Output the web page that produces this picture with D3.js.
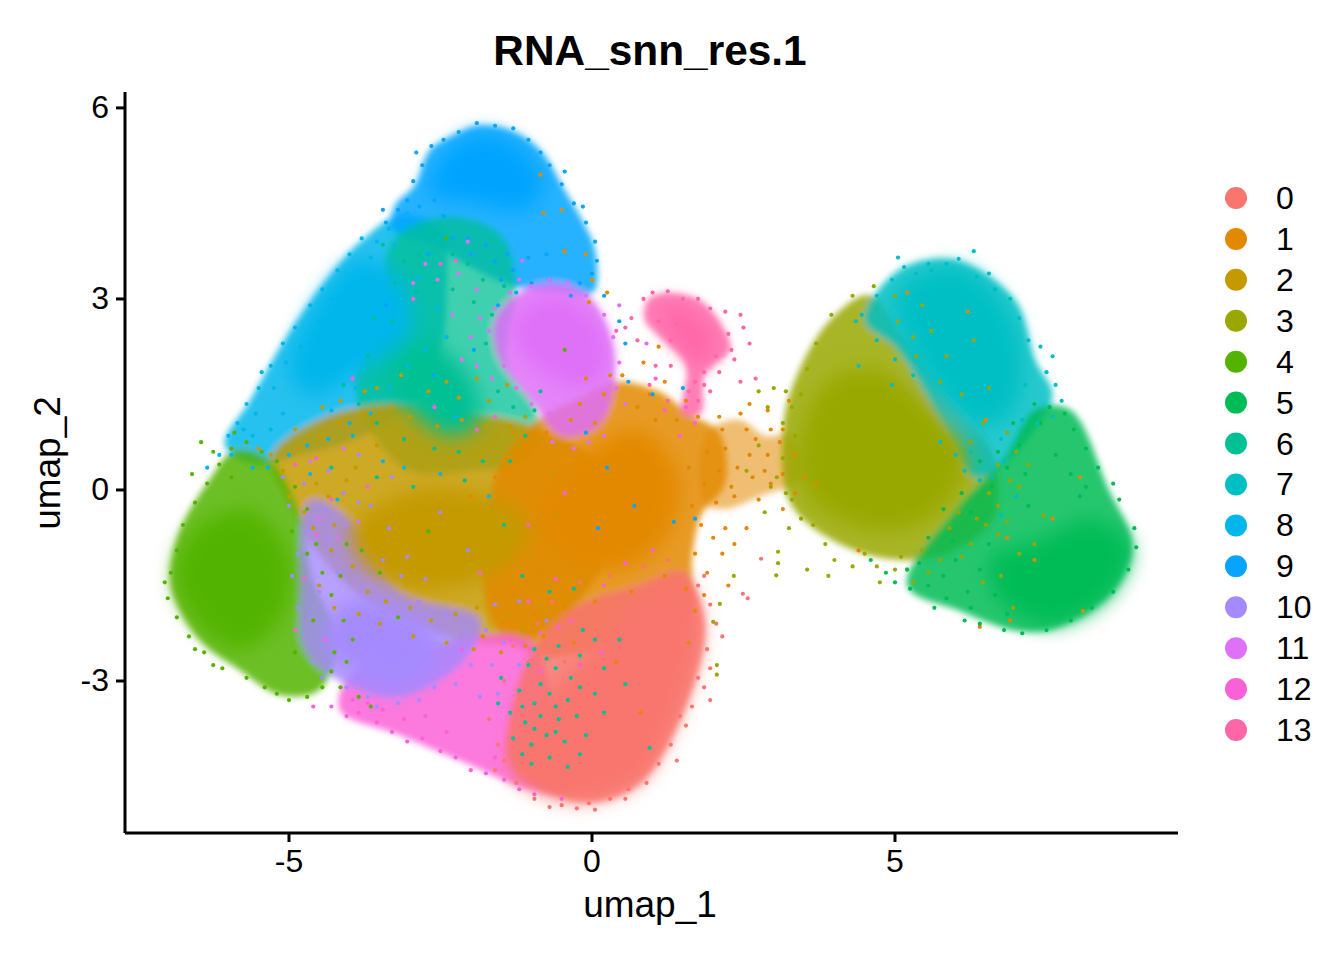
<!DOCTYPE html>
<html><head><meta charset="utf-8">
<script src="https://cdn.jsdelivr.net/npm/d3@7/dist/d3.min.js"></script>
<style>html,body{margin:0;background:#fff}svg{display:block}text{font-family:"Liberation Sans",Arial,sans-serif;fill:#000}</style>
</head><body><svg id="c" width="1344" height="960"></svg>
<script>
const clusters=["0","1","2","3","4","5","6","7","8","9","10","11","12","13"];
const colors=["#F8766D","#E38900","#C49A00","#99A800","#53B400","#00BC56","#00C094","#00BFC4","#00B6EB","#06A4FF","#A58AFF","#DF70F8","#FB61D7","#FF66A8"];
const xTicks=[-5,0,5], yTicks=[-3,0,3,6];

// Cluster extents, in umap units: [cluster, outline, density]
const sparseRegions=[
[8,[[-6.06,.71],[-5.64,1.41],[-5.07,2.36],[-4.32,3.38],[-3.75,3.96],[-3.17,4.32],[-2.5,4.1],[-2.4,3.1],[-2.5,2.2],[-3,1.3],[-3.9,.8],[-4.8,.55],[-5.6,.4]],.85],
[9,[[-2.92,4.79],[-2.67,5.34],[-2.26,5.58],[-1.88,5.72],[-1.35,5.65],[-.86,5.34],[-.45,4.71],[-.12,4.16],[.05,3.77],[.02,3.1],[-.6,3.1],[-1.3,3.2],[-2,3.5],[-2.6,3.85],[-3.3,4.1],[-3.25,4.47]],.85],
[6,[[-3.3,3.9],[-2.4,4.3],[-1.5,4],[-1.25,3.2],[-1.4,2],[-.9,1.2],[-1,.5],[-2,.3],[-3,.3],[-3.7,1],[-3.9,1.7],[-3.5,2.6]],.75],
[2,[[-5.3,.5],[-4.5,1.1],[-3.3,1.35],[-2,1.2],[-1,1],[.2,.3],[.2,-1.1],[-.9,-2.3],[-1.9,-2.4],[-3,-2.1],[-3.8,-1.7],[-4.6,-.9],[-5,-.2]],.85],
[1,[[-1.6,.2],[-.9,1.1],[-.2,1.45],[.35,1.7],[1.1,1.55],[1.6,1.2],[2.1,.9],[2.2,.1],[1.8,-.4],[1.65,-1.1],[1.62,-1.95],[.46,-2.4],[-.86,-2.6],[-1.68,-2]],.85],
[1,[[1.9,.9],[2.44,1.1],[2.85,.85],[3.3,.85],[3.45,.2],[2.77,-.1],[2.2,-.3],[1.85,-.2]],.55],
[4,[[-6.96,-1.34],[-6.8,-.63],[-6.31,.16],[-5.89,.63],[-5.31,.47],[-4.85,-.31],[-4.6,-1.41],[-4.2,-2.36],[-4.5,-3.14],[-5.15,-3.22],[-5.81,-2.83],[-6.47,-2.36],[-6.88,-1.73]],.85],
[12,[[-4.16,-3.46],[-3.17,-3.85],[-2.01,-4.32],[-1.02,-4.71],[-.4,-4.75],[-.6,-3.5],[-1,-2.4],[-2.01,-2.3],[-3,-2.6],[-3.99,-2.9]],.85],
[10,[[-4.82,-1.73],[-4.65,-.16],[-3.99,-.47],[-3.17,-1.6],[-1.85,-2.04],[-2.1,-2.67],[-3.17,-3.25],[-4.16,-3],[-4.74,-2.51]],.8],
[0,[[-1.35,-4.3],[-1.3,-3.3],[-.9,-2.4],[-.2,-1.8],[.8,-1.5],[1.5,-1.3],[1.85,-2],[1.7,-3],[.8,-4.6],[-.2,-4.9]],.85],
[11,[[-1.6,2.67],[-1.19,3.1],[-.61,3.25],[-.03,3.02],[.32,2.36],[.36,1.6],[.1,1],[-.5,.85],[-1,1.4],[-1.55,2.1]],.85],
[13,[[.92,2.98],[1.2,3.09],[1.78,2.98],[2.19,2.51],[2.28,2.2],[1.86,1.81],[1.8,1.2],[1.5,1.2],[1.55,1.95],[1.12,2.4],[.87,2.67]],.85],
[3,[[3.35,1.73],[3.93,2.67],[4.59,3.06],[5.17,2.36],[5.91,1.41],[6.6,.6],[6.65,-.4],[6,-.95],[5.08,-1.1],[4.09,-.85],[3.27,-.2],[3.15,.94]],.85],
[7,[[4.5,2.67],[5.08,3.46],[5.99,3.61],[6.98,2.98],[7.31,2.04],[7.6,1.49],[7.23,.85],[6.73,.35],[6.3,.2],[5.8,1],[5.08,2.2]],.85],
[5,[[7.31,1.26],[7.89,1.26],[8.53,0],[8.92,-.86],[8.63,-1.57],[7.72,-2.15],[7.06,-2.22],[6.07,-1.9],[5.2,-1.5],[6,-.3],[6.8,.5]],.85]
];
const denseRegions=[
[2,[[-3.99,-.63],[-2.84,0],[-1.52,-.16],[-1.02,-.63],[-1.52,-1.26],[-2.84,-1.57],[-3.66,-1.26]]],
[1,[[-.86,-.31],[-.03,.63],[.79,.94],[1.45,.16],[1.2,-.79],[.46,-1.26],[-.53,-1.02]]],
[6,[[-3.42,1.88],[-2.84,2.36],[-2.1,1.88],[-1.85,1.1],[-2.34,.86],[-3,1.26]]],
[8,[[-4.98,1.88],[-4.49,2.98],[-3.83,3.61],[-3.17,3.3],[-3,2.51],[-3.83,1.88],[-4.65,1.49]]],
[9,[[-2.7,4.7],[-2.3,5.4],[-1.8,5.6],[-1.2,5.4],[-.8,4.8],[-1.1,4.4],[-1.9,4.5]]],
[4,[[-6.88,-1.34],[-6.55,-.63],[-5.64,-.31],[-4.98,-1.1],[-5.15,-2.04],[-5.81,-2.51],[-6.55,-2.04]]],
[10,[[-4.32,-2.04],[-3.99,-1.73],[-3.17,-1.88],[-2.51,-2.36],[-2.67,-2.83],[-3.33,-3.14],[-3.99,-2.83],[-4.41,-2.51]]],
[0,[[-1.35,-4.4],[-.69,-4.79],[-.13,-4.87],[.79,-4.55],[1.29,-3.77],[1.62,-2.98],[1.78,-2.04],[1.45,-1.41],[.79,-1.65],[.13,-2.36],[-.53,-2.98],[-1.11,-3.77]]],
[11,[[-1.3,2.6],[-.9,3],[-.4,3],[.1,2.6],[.25,2],[-.1,1.6],[-.7,1.8],[-1.2,2.2]]],
[13,[[1.1,2.9],[1.6,2.8],[2,2.4],[1.85,1.95],[1.5,2.2]]],
[3,[[3.43,.79],[3.93,1.73],[4.75,1.88],[5.58,1.26],[6.16,.63],[5.91,-.16],[5.08,-.63],[4.09,-.47],[3.51,0]]],
[7,[[5,3.1],[5.99,3.5],[6.8,2.9],[7.1,2],[6.9,1.2],[6.3,1],[5.6,1.7],[5.1,2.5]]],
[5,[[7.39,-.79],[8.22,-.47],[8.88,-.86],[8.55,-1.65],[7.56,-2.12],[6.73,-1.73],[6.57,-1.1]]]
];

// Individual cells, in umap units
const cells0=[[-.9,-2.1],[-.55,-2.3],[-.3,-2.05],[.1,-1.95],[-1.3,-2.45],[-1.05,-2.7],[-.7,-2.55],[-1.45,-3],[-1.2,-3.2],[-1.7,-3.6],[-1.55,-4],[-.95,-4.85],[-.5,-4.95],[-.25,-5],[.3,-4.85],[.9,-4.6],[1.3,-4],[1.45,-3.55],[1.75,-2.95],[1.9,-2.5],[2.05,-2.1],[1.95,-1.8],[1.75,-1.5],[2.49,-1.63],[2.57,-1.7],[2.79,-1.08],[1.85,-1.35],[1.65,-3.4],[1.55,-3.7],[1.1,-4.3],[.6,-4.7],[-.05,-4.92],[-.2,-1.45],[.3,-1.35],[.85,-1.2],[1.25,-1.1],[-.65,-1.75],[-1.05,-2.3],[-.45,-2.7],[-.1,-2.35],[.25,-2.15],[-.85,-3],[-1.3,-3.7],[-1.45,-4.25],[-1.6,-4.4],[-1.25,-4.6],[1.85,-3.1],[1.95,-2.8],[2.15,-2.3],[1.95,-3.3],[1.4,-4.25],[.55,-4.85],[.05,-5.02],[-.7,-4.98]];
const cells1=[[2.55,.95],[2.7,.8],[2.9,.55],[3.1,.75],[2.4,.35],[2.2,.65],[2.65,.2],[2.95,.1],[3.15,.25],[2.35,-.1],[2.05,-.2],[1.8,-.55],[2,-.75],[2.2,-.6],[1.7,-1],[1.9,-1.3],[2.55,-.6],[2.35,-.85],[2.75,-.15],[3.15,-.3],[3.35,.55],[3.5,.2],[3.7,.1],[2.1,1.15],[2.45,1.2],[2.9,1.25],[1.2,1.7],[1.1,2.25],[.85,2],[.5,1.8],[.75,1.3],[1.05,1.1],[.3,1.8],[-.2,1.35],[-.35,1.1],[-.75,.9],[-1.3,.9],[-1.05,.6],[-1.6,.2],[-2,-.1],[-1.9,-1.05],[-1.3,-1.65],[-.95,-1.95],[-.45,-1.85],[.05,-1.75],[.65,-1.6],[1.2,-1.35],[1.55,-1.55],[-.3,-2.4],[-.8,-2.3],[-1.8,-2.3],[-1.1,-2.45],[.8,-3.5],[.4,-2.7],[1.6,-2.4],[4.4,-.95],[5.2,-1.25],[6.4,-2.15],[6.9,-2.05],[8.1,-1.9],[6.85,-.75],[7.3,-1.1],[7.6,-.45],[8.05,.2],[6.2,2.8],[5.2,3.1],[6.5,1.1],[-.85,4.95],[-.5,4.4],[-.8,4.35],[-.45,3.75],[-.1,3.7],[0,3.3],[-.05,2.95],[.25,3.1],[1.75,1.15],[1.55,1.4],[.95,1.5],[.55,1.35],[.2,1.5],[1.4,1.1],[2.15,.95],[2.6,1.35],[3.25,1.4],[1.9,.6],[1.6,.35],[1.85,.1],[2.1,.3],[2.3,.05],[1.65,-.25],[2.15,-1],[1.85,-1.65],[2.25,-1.5],[1.7,-1.9],[3.35,-.05],[2.95,.95],[3.15,.95],[2.6,.55],[2.85,.3],[-.1,1.75],[.05,1.05],[.35,-.3]];
const cells2=[[-5.1,.3],[-4.85,.65],[-4.5,.85],[-4.2,1.05],[-3.8,1.2],[-3.3,1.3],[-3,1.15],[-2.55,1],[-2.15,1.1],[-1.75,1],[-1.35,1],[-1.2,.7],[-5,-.1],[-4.75,-.35],[-4.55,.1],[-4.25,-.55],[-3.9,.35],[-3.55,.7],[-3.2,.55],[-2.8,.4],[-2.35,.5],[-1.85,.55],[-1.5,.35],[-4.45,1.3],[-3.55,1.6],[-3.15,1.8],[-2.7,1.55],[-2.2,1.45],[-1.7,1.4],[-1.4,1.65],[-4.3,-.95],[-3.95,-1.2],[-3.7,-1.6],[-3.4,-1.75],[-3,-1.85],[-2.65,-2.05],[-2.25,-1.95],[-1.9,-1.85],[-1.4,-1.95],[-1.15,-2.2],[-.85,-1.85],[-.75,-1.5],[-4.6,-.6],[-4.35,-.1],[-4.05,.15],[-4.5,-1.5],[-4.25,-1.85],[-3.85,-1.95],[-3.5,-2.1],[-2.95,-2.3],[-2.4,-2.4],[-1.95,-2.5],[-1.5,-2.55],[-5.3,.55],[-5.5,.65],[-4.9,.95],[-4.15,1.4],[-3.75,1.55],[-2.4,1.7],[-1.9,1.75],[-1.1,1.15],[-.85,.8],[-.65,.25],[-.6,-.4],[-2.5,-.3],[-2.1,-.45],[-1.7,-.9],[-2.85,-.55]];
const cells3=[[3.55,1.9],[3.7,2.3],[3.95,2.75],[4.3,3.05],[4.65,3.2],[5,3.05],[5.45,2.9],[5.6,2.5],[5.85,2.1],[6.3,2.35],[6.55,1.6],[6.85,.9],[7,.6],[7.2,.4],[7.05,.05],[6.7,-.25],[6.35,-.45],[6.7,-.7],[7.05,-1],[7.45,-.4],[7.3,-.85],[3.45,1.5],[3.2,1.55],[3,1.6],[2.75,1.55],[2.9,1.3],[3.3,1.3],[3.15,1.05],[3.35,.85],[3.15,.5],[3.05,.2],[3.3,-.15],[3.45,-.45],[3.25,-.6],[3.65,-.55],[3.85,-.85],[4,-1.1],[4.3,-1.2],[4.7,-1.2],[5,-1.25],[5.3,-1.45],[5.55,-1.3],[3.07,-.97],[3.07,-1.15],[3.04,-1.34],[2.34,-1.35],[2.11,-1.79],[2,-2.07],[2.06,-2.75],[2.06,-2.9],[2.55,.3],[2.85,-.35],[3.55,-1.25],[3.9,-1.35],[4.75,-1.45],[6.1,-1.05],[6.45,-1.45],[6.75,-1.35],[6.95,-1.85],[5.35,2.1],[5.75,1.7],[6.1,1.5],[6.45,1.05],[6.25,.75],[6.7,.4],[6.9,.15],[6.55,-.05],[6.25,-.85],[5.9,-.6],[6.5,-.55],[6.05,-.35],[6.85,-.5],[5.75,-1.1],[5.45,-.95],[5.1,-1.05],[4.5,-1],[2.75,.7],[2.95,.05],[3.2,-.05],[5.05,2.65],[5.3,2.4]];
const cells4=[[-6.95,-1.3],[-7.05,-1.45],[-7,-1.7],[-6.85,-2],[-6.65,-2.3],[-6.4,-2.55],[-6.1,-2.8],[-5.7,-2.95],[-5.4,-3.1],[-5,-3.3],[-4.7,-3.25],[-4.45,-3.1],[-4.3,-2.85],[-4.25,-2.55],[-6.85,-.95],[-6.75,-.55],[-6.55,-.2],[-6.35,.1],[-6.15,.4],[-5.95,.65],[-5.7,.75],[-5.45,.6],[-5.2,.45],[-4.9,.05],[-4.7,-.3],[-4.55,-.85],[-4.45,-1.3],[-4.3,-1.65],[-4.1,-2.05],[-3.95,-2.35],[-3.85,-3.25],[-3.65,-3.4],[-3.2,-2],[-2.7,-.65],[-.45,2.2],[-2.4,3.95],[-6.25,.6],[-6.45,.75],[-5.9,.9],[-4.95,-.65],[-4.7,-1],[-4.15,-1.35],[-4.05,-.85],[-3.8,-.95],[-3.5,-1.3],[-4.9,-2.55],[-4.6,-2.05],[-4.05,-2.7],[-4.15,-3.1],[-5.2,-3.2],[-6.25,-2.75],[-6.55,-2.5],[-5.95,.2],[-6.6,.25]];
const cells5=[[7.3,1.35],[7.55,1.3],[7.8,1.2],[7.95,.95],[8.15,.65],[8.35,.35],[8.6,.1],[8.7,-.15],[8.95,-.6],[8.98,-.9],[8.85,-1.25],[8.6,-1.6],[8.25,-1.85],[7.9,-2.05],[7.5,-2.2],[7.1,-2.25],[6.8,-2.2],[6.4,-2.1],[6.15,-2.05],[5.85,-1.7],[5.55,-1.5],[5.25,-1.55],[5,-1.45],[6.2,-1.6],[6.4,-1.25],[6,-1.1],[6.55,-.85],[5.95,-.8],[6.25,-.35],[6.6,.05],[6.85,.35],[7.05,.7],[6.95,1.05],[7.9,.25],[8.15,.05],[7.65,.55],[7.2,-.25],[5.4,-1.15],[5.65,-1.85],[6.85,-1.95],[7.15,.25],[6.7,.6],[6.4,.45],[6.1,-.05],[5.8,-.3],[5.55,-.75],[5.2,-1.25],[4.85,-1.3],[4.6,-1.1],[5.8,-1.35],[6.25,-1.85],[6.65,-1.65],[7.4,1.05],[8.05,-.1]];
const cells6=[[-3.45,3.85],[-3.1,3.6],[-2.85,3.7],[-2.65,4.05],[-2.35,3.95],[-2.05,3.55],[-1.8,3.3],[-3.25,3.25],[-2.9,3.1],[-2.6,3.25],[-2.3,3.15],[-1.95,2.95],[-1.65,2.75],[-1.75,2.3],[-3.6,2.7],[-3.3,2.65],[-3.7,2.1],[-4.1,1.65],[-3.85,1.35],[-3.55,1.05],[-3.1,.8],[-2.6,.65],[-2.2,.6],[-1.8,.45],[-1.35,.45],[-1.1,.85],[-1.3,1.3],[-1.55,1.55],[-.95,1.25],[-.85,1.55],[-2.3,3.7],[-1.45,3.2],[-4.3,.35],[-3.55,.2],[-2.95,.05],[-2.1,.15],[-1.05,-2.75],[-.85,-3.05],[-.6,-2.8],[-.35,-2.95],[-1.2,-3.15],[-.95,-3.35],[-.7,-3.2],[-.4,-3.3],[-1.35,-3.5],[-1.1,-3.65],[-.85,-3.55],[-.55,-3.6],[-.25,-3.55],[-1.3,-3.9],[-1,-4],[-.75,-3.85],[-.45,-3.95],[-1,-4.3],[-.7,-4.2],[-.4,-4.35],[-.1,-3.85],[.05,-3.2],[.2,-2.8],[-.2,-2.6],[-1.5,-2.95],[-1.55,-3.35],[-.55,-2.45],[.45,-2.35],[.55,-3.05],[.95,-4.05],[-.95,-2.5],[-.75,-2.65],[-.15,-2.2],[.05,-2.35],[-.2,-3.1],[-.6,-3.4],[-1.15,-3.4],[-.95,-3.75],[-.6,-3.8],[-.2,-4.15],[-1.15,-4.15],[.2,-3.5],[-.7,-1.6],[-.3,-1.55],[-1.15,-1.35],[-1.45,-.55]];
const cells7=[[4.45,2.75],[4.7,3.05],[4.95,3.3],[5.15,3.5],[5.35,3.4],[5.6,3.45],[5.85,3.55],[6.05,3.63],[6.35,3.35],[6.65,3.15],[6.9,3],[7.05,2.7],[7.2,2.35],[7.4,2.25],[7.6,2.1],[7.5,1.85],[7.65,1.65],[7.75,1.4],[7.6,1.15],[7.35,1.05],[6.8,.45],[6.6,.2],[6.4,.15],[6.15,.3],[5.75,.75],[5.3,1.8],[5,2.05],[4.7,2.35],[5.65,2.85],[6,.55],[7,-.1],[6.75,-.4],[5.05,3.65],[5.55,3.55],[6.3,3.75],[6.55,3.4],[4.35,2.65],[7.15,1.65],[7.1,1.1],[6.75,.8],[6.25,.6],[4.95,1.65],[4.4,1.95]];
const cells8=[[-6.15,.55],[-6,.85],[-5.85,1.05],[-5.7,1.35],[-5.5,1.6],[-5.3,1.95],[-5.1,2.3],[-4.9,2.55],[-4.65,2.9],[-4.45,3.15],[-4.2,3.45],[-4,3.7],[-3.8,3.95],[-3.55,3.9],[-3.35,4.1],[-3.05,4.35],[-2.85,3.35],[-2.55,2.85],[-2.4,2.4],[-2.75,2.2],[-3.05,1.95],[-3.35,1.6],[-3.65,1.2],[-4,1.05],[-4.35,.8],[-4.7,.7],[-5,.55],[-5.35,.35],[-5.6,.35],[-6.35,.35],[-3.9,3.3],[-1.7,-.1],[-4.2,-.15],[-4.65,.25],[-3.1,.35],[-2.25,1.15],[-5.95,.55],[-5.75,.95],[-5.55,1.2],[-5.25,1.6],[-5.45,1.85],[-5.05,2],[-4.8,2.25],[-4.5,2.65],[-4.3,3],[-3.65,3.65],[-3.25,3.85],[-3.1,2.9],[-3.55,2.3],[-3.9,1.6],[-4.3,1.25],[-5.1,1.2],[-5.3,.95],[-5.6,.85],[-3.95,.85],[-3.45,.45],[-2.5,.25]];
const cells9=[[-3.2,4.4],[-3.05,4.55],[-2.95,4.85],[-2.8,5.1],[-2.65,5.4],[-2.45,5.5],[-2.2,5.62],[-1.9,5.76],[-1.6,5.72],[-1.3,5.68],[-1.05,5.5],[-.85,5.3],[-.7,5.1],[-.5,4.8],[-.3,4.5],[-.1,4.2],[.05,3.9],[.08,3.6],[0,3.4],[-.2,3.25],[-.35,3.05],[-.7,3.3],[-1,3.25],[-1.3,3.45],[-1.6,3.6],[-1.25,3.1],[-1.55,2.9],[-2,3.7],[-2.3,3.95],[-2.7,3.7],[-3.4,4.2],[.2,3.05],[.45,2.65],[.55,2.3],[.6,1.7],[1,1.5],[1.5,1.6],[-.1,.9],[.25,.35],[.7,-.25],[1.35,-.5],[1.7,-.45],[.1,-.6],[-1.5,3.3],[-1.95,2.2],[-2.6,1.8],[-3.4,2.9],[-2.6,4.55],[-2.85,4.45],[-2.45,4.3],[-2.05,3.95],[-1.75,3.85],[-1.4,3.7],[-1.05,3.65],[-.75,3.7],[-3.45,4.4],[-2.9,5.3],[-.45,5],[-.15,4.45]];
const cells10=[[-4.85,-1],[-4.7,-.65],[-4.4,-.3],[-4.1,-.05],[-3.65,-.25],[-3.35,-.6],[-3.05,-1.05],[-2.75,-1.4],[-2.1,-2.25],[-1.75,-2.2],[-1.45,-2.4],[-1.2,-2.75],[-1.65,-2.75],[-2,-2.75],[-2.25,-3.05],[-1.85,-3.25],[-1.55,-3.2],[-4.6,-2.7],[-4.45,-2.95],[-4.05,-3.1],[-3.7,-3.25],[-4.2,-1.3],[-4.5,-1.6],[-5,-.25],[-5.1,.2],[-4.85,-1.85],[-3.85,.55],[-3.3,.2],[-2.5,-.35],[-2.05,-.95],[-4.35,-.75],[-4.05,-.55],[-3.85,-.2],[-3.45,-1.1],[-3.15,-1.35],[-2.85,-1.75],[-2.4,-1.95],[-4.95,-1.35],[-4.75,.1],[-4.35,.3],[-1.6,-1.8],[-1.2,-1.75],[-.75,-2.05],[-2.6,-3.1],[-2.85,-3.3],[-3.2,-3.35],[-3.55,-3.4]];
const cells11=[[-1.7,2.5],[-1.6,2.85],[-1.35,3.1],[-1,3.2],[-.7,3.3],[-.4,3.25],[-.1,3.05],[.2,2.75],[.35,2.4],[.45,2],[.4,1.6],[.2,1.3],[-.1,1.15],[-.4,1],[-.7,1.2],[-1,1.35],[-1.25,1.6],[-1.45,1.95],[-1.85,2.7],[-2,2.4],[-1.9,1.95],[-2.3,2.75],[-2.55,3.3],[-2.2,3.4],[-1.9,3.15],[-2.05,3.9],[-1.15,3.6],[.55,1.35],[.9,2.3],[.45,2.9],[-3.85,-.5],[-4.1,.65],[-.3,.65],[-2.75,3.55],[-2.95,3.25],[-2.15,2.05],[-1.65,1.75],[-1.2,3.3],[-.05,.75],[.2,.85],[-.65,.75],[-4.5,-.45],[-4.65,.45],[-4.2,-.75]];
const cells12=[[-4.3,-3.4],[-4.05,-3.55],[-3.85,-3.5],[-3.55,-3.65],[-3.3,-3.8],[-3.05,-3.95],[-2.8,-3.9],[-2.5,-4.1],[-2.25,-4.2],[-2,-4.4],[-1.75,-4.45],[-1.45,-4.55],[-1.2,-4.7],[-.95,-4.78],[-4.6,-3.4],[-3.7,-3.35],[-4.9,-2.2],[-4.75,-1.4],[-4.55,-.7],[-4.9,.4],[-4.55,.5],[-3.95,1.75],[-2.6,1.3],[-1.6,1.15],[-2.95,3],[-2.5,3.55],[-2.25,3.6],[1.2,1.25],[1.05,1.75],[1.55,1.3],[1.7,1.05],[1.45,.85],[-2.15,-2.5],[-1.35,-2.35],[-1.05,-1.75],[-.6,-1.4],[.2,-1.5],[.55,-1.15],[1,-.95],[-.35,-2.05],[-1.85,-1.3],[-1.05,-.55],[-.45,-.05],[-3.95,-3.3],[-3.45,-3.45],[-3.1,-3.6],[-2.75,-3.55],[-2.4,-3.8],[-.85,-2.85],[-.55,-2.15],[-.85,-2.25],[-.2,-2.75],[.15,-2.55],[-.5,-4.85],[-1.6,-4.2],[-4.4,-2.35],[-4.3,-.15],[-3.7,.05],[-1.9,.95]];
const cells13=[[.85,3],[1,3.1],[1.25,3.12],[1.5,3],[1.75,3],[1.95,2.85],[2.2,2.8],[2.45,2.75],[2.5,2.55],[2.25,2.45],[2.3,2.2],[2.05,2.1],[.55,2.55],[.75,2.35],[.65,2.7],[.4,2.5],[1.3,1.95],[1.05,1.95],[.95,1.65],[1.85,1.85],[1.95,1.55],[1.75,1.4],[2.7,1.75],[2.45,1.7],[1.25,1.4],[1.3,2.35],[1.1,2.65],[1.4,2.6],[1.85,1.65],[2.1,1.85],[2.35,2.05],[2.6,2.3],[1.6,1.55],[1.7,1.7]];
const cellLists=[cells0,cells1,cells2,cells3,cells4,cells5,cells6,cells7,cells8,cells9,cells10,cells11,cells12,cells13];

const svg=d3.select("#c");
const defs=svg.append("defs");
defs.append("filter").attr("id","soft").attr("x","-20%").attr("y","-20%").attr("width","140%").attr("height","140%")
  .append("feGaussianBlur").attr("stdDeviation",3);
defs.append("filter").attr("id","softer").attr("x","-30%").attr("y","-30%").attr("width","160%").attr("height","160%")
  .append("feGaussianBlur").attr("stdDeviation",10);
const x=d3.scaleLinear().domain([-7.706,9.67]).range([125,1178]);
const y=d3.scaleLinear().domain([-5.387,6.25]).range([833,92]);
const outline=d3.line().x(d=>x(d[0])).y(d=>y(d[1])).curve(d3.curveCatmullRomClosed.alpha(.5));

svg.append("g").attr("filter","url(#soft)").selectAll("path").data(sparseRegions).join("path")
  .attr("d",d=>outline(d[1])).attr("fill",d=>colors[d[0]]).attr("fill-opacity",d=>d[2]);
svg.append("g").attr("filter","url(#softer)").selectAll("path").data(denseRegions).join("path")
  .attr("d",d=>outline(d[1])).attr("fill",d=>colors[d[0]]);
const allCells=cellLists.flatMap((list,i)=>list.map(p=>({c:i,p})));
svg.append("g").selectAll("circle").data(allCells).join("circle")
  .attr("cx",d=>x(d.p[0])).attr("cy",d=>y(d.p[1])).attr("r",2.1).attr("fill",d=>colors[d.c]);

function styleAxis(g){
  g.selectAll("path").attr("stroke","#000").attr("stroke-width",3);
  g.selectAll(".tick line").attr("stroke","#000").attr("stroke-width",3);
  g.selectAll("text").style("font-size","32px").style("font-family",'"Liberation Sans",Arial,sans-serif').attr("fill","#000");
}
svg.append("g").attr("transform","translate(0,833)")
  .call(d3.axisBottom(x).tickValues(xTicks).tickSize(9).tickSizeOuter(0).tickPadding(7).offset(0).tickFormat(d=>String(d))).call(styleAxis);
svg.append("g").attr("transform","translate(125,0)")
  .call(d3.axisLeft(y).tickValues(yTicks).tickSize(9).tickSizeOuter(0).tickPadding(7).offset(0).tickFormat(d=>String(d))).call(styleAxis);

svg.append("text").attr("x",650).attr("y",65).attr("text-anchor","middle").attr("font-weight","bold").attr("font-size",42.4).text("RNA_snn_res.1");
svg.append("text").attr("x",650).attr("y",917).attr("text-anchor","middle").attr("font-size",37).text("umap_1");
svg.append("text").attr("transform","translate(60,463) rotate(-90)").attr("text-anchor","middle").attr("font-size",37).text("umap_2");

const legendY=d3.scalePoint().domain(clusters).range([198,730]);
const lg=svg.append("g").selectAll("g").data(clusters).join("g").attr("transform",d=>`translate(0,${legendY(d)})`);
lg.append("circle").attr("cx",1236).attr("r",11).attr("fill",(d,i)=>colors[i]);
lg.append("text").attr("x",1276).attr("y",11).attr("font-size",32).text(d=>d);
</script></body></html>
